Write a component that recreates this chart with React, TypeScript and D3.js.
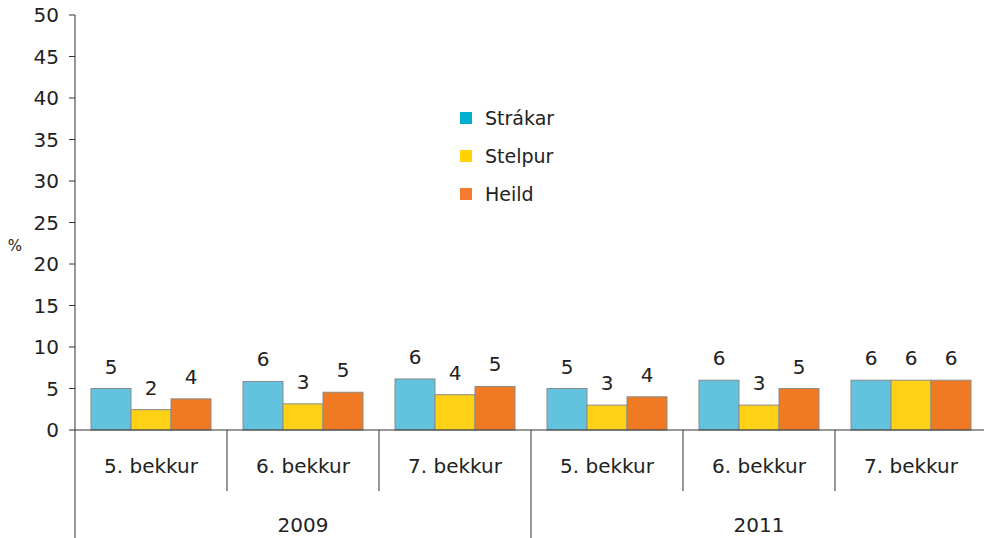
import React from "react";
import * as d3 from "d3";

const years = ["2009", "2011"];
const grades = ["5. bekkur", "6. bekkur", "7. bekkur"];
const seriesNames = ["Strákar", "Stelpur", "Heild"];
const boys = [5.0, 5.85, 6.15, 5.0, 6.0, 6.0];
const girls = [2.45, 3.15, 4.25, 3.0, 3.0, 6.0];
const total = [3.75, 4.55, 5.25, 4.0, 5.0, 6.0];
const labelsBoys = ["5", "6", "6", "5", "6", "6"];
const labelsGirls = ["2", "3", "4", "3", "3", "6"];
const labelsTotal = ["4", "5", "5", "4", "5", "6"];
const yTicks = [0, 5, 10, 15, 20, 25, 30, 35, 40, 45, 50];

const barColors = ["#63C3DE", "#FDD116", "#F07A24"];
const legendColors = ["#00AFD0", "#FFD200", "#F47A30"];

export default function App() {
  const W = 984, H = 538;
  const left = 75, right = 987, top = 15, bottom = 430;
  const cats = years.flatMap((y) => grades.map((g) => `${y}|${g}`));
  const x = d3.scaleBand().domain(cats).range([left, right]).paddingInner(0).paddingOuter(0);
  const inner = d3.scaleBand().domain(seriesNames).range([0, x.bandwidth()]).paddingOuter(0.4).paddingInner(0);
  const y = d3.scaleLinear().domain([0, 50]).range([bottom, top]);
  const values = [boys, girls, total];
  const labels = [labelsBoys, labelsGirls, labelsTotal];
  const font = "'DejaVu Sans', sans-serif";
  const yearW = x.bandwidth() * grades.length;

  return (
    <svg width={W} height={H} style={{ position: "absolute", left: 0, top: 0 }}>
      <rect width={W} height={H} fill="#fff" />
      {cats.map((c, ci) =>
        seriesNames.map((s, si) => {
          const v = values[si][ci];
          const bx = (x(c) as number) + (inner(s) as number);
          return (
            <g key={c + s}>
              <rect x={bx} y={y(v)} width={inner.bandwidth()} height={y(0) - y(v)}
                fill={barColors[si]} stroke="#8a8a8a" strokeWidth={1} />
              <text x={bx + inner.bandwidth() / 2} y={y(v) - 15} textAnchor="middle"
                fontFamily={font} fontSize={20} fill="#222">{labels[si][ci]}</text>
            </g>
          );
        })
      )}
      <line x1={left} x2={left} y1={top} y2={H} stroke="#333" strokeWidth={1} />
      {yTicks.map((t) => (
        <g key={t}>
          <line x1={left - 6} x2={left} y1={y(t)} y2={y(t)} stroke="#333" />
          <text x={left - 16} y={y(t)} dy="0.36em" textAnchor="end" fontFamily={font} fontSize={20} fill="#222">{t}</text>
        </g>
      ))}
      <text x={15} y={246} dy="0.36em" textAnchor="middle" fontFamily={font} fontSize={15} fill="#222">%</text>
      <line x1={left} x2={right} y1={bottom} y2={bottom} stroke="#333" />
      {cats.map((c, ci) => {
        const cx = x(c) as number;
        const isYearStart = ci % grades.length === 0;
        const tx = cx + x.bandwidth() / 2;
        return (
          <g key={"sep" + c}>
            {ci > 0 && (
              <line x1={cx} x2={cx} y1={bottom} y2={isYearStart ? H : 491} stroke="#333" />
            )}
            <text x={tx} y={466} dy="0.36em" textAnchor="middle"
              fontFamily={font} fontSize={20} fill="#222">{c.split("|")[1]}</text>
          </g>
        );
      })}
      {years.map((yr, i) => (
        <text key={yr} x={left + yearW * i + yearW / 2} y={525} dy="0.36em" textAnchor="middle"
          fontFamily={font} fontSize={20} fill="#222">{yr}</text>
      ))}
      {seriesNames.map((s, i) => (
        <g key={"lg" + s}>
          <rect x={460} y={112 + i * 38} width={12} height={12} fill={legendColors[i]} />
          <text x={485} y={118 + i * 38} dy="0.36em" fontFamily={font} fontSize={19} fill="#222">{s}</text>
        </g>
      ))}
    </svg>
  );
}
